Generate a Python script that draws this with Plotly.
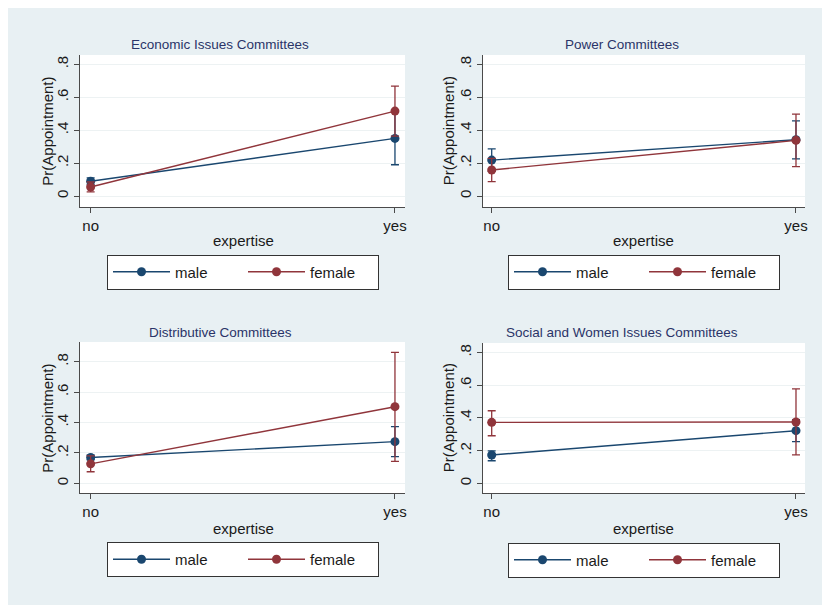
import plotly.graph_objects as go

# The page body adds an 8px white margin; the figure fills the rest of the window.
OFF = 8
W, H = 830 - OFF, 605 - OFF

# ---------------- data ----------------
categories = ["no", "yes"]
series_names = ["male", "female"]
panel_titles = [
    "Economic Issues Committees",
    "Power Committees",
    "Distributive Committees",
    "Social and Women Issues Committees",
]
ytick_vals = [0, 0.2, 0.4, 0.6, 0.8]
ytick_text = ["0", ".2", ".4", ".6", ".8"]
x_title = "expertise"
y_title = "Pr(Appointment)"

econ_male = [0.09, 0.35]
econ_male_lo = [0.07, 0.19]
econ_male_hi = [0.11, 0.51]
econ_female = [0.055, 0.516]
econ_female_lo = [0.025, 0.364]
econ_female_hi = [0.085, 0.668]

power_male = [0.218, 0.342]
power_male_lo = [0.15, 0.225]
power_male_hi = [0.286, 0.456]
power_female = [0.158, 0.338]
power_female_lo = [0.087, 0.178]
power_female_hi = [0.229, 0.497]

distr_male = [0.17, 0.274]
distr_male_lo = [0.155, 0.175]
distr_male_hi = [0.185, 0.373]
distr_female = [0.128, 0.504]
distr_female_lo = [0.076, 0.144]
distr_female_hi = [0.18, 0.862]

social_male = [0.173, 0.322]
social_male_lo = [0.138, 0.255]
social_male_hi = [0.198, 0.39]
social_female = [0.373, 0.375]
social_female_lo = [0.291, 0.174]
social_female_hi = [0.444, 0.578]

panels = [
    (econ_male, econ_male_lo, econ_male_hi, econ_female, econ_female_lo, econ_female_hi),
    (power_male, power_male_lo, power_male_hi, power_female, power_female_lo, power_female_hi),
    (distr_male, distr_male_lo, distr_male_hi, distr_female, distr_female_lo, distr_female_hi),
    (social_male, social_male_lo, social_male_hi, social_female, social_female_lo, social_female_hi),
]

# ---------------- layout geometry (page pixels) ----------------
plot_boxes = [  # x0, x1, ytop, ybottom
    (80, 405, 55, 207),
    (483, 805, 55, 207),
    (80, 405, 342, 493),
    (483, 805, 343, 493),
]
x_ranges = [[-0.035, 1.033], [-0.0286, 1.0296], [-0.035, 1.033], [-0.0286, 1.0296]]
y_ranges = [[-0.0668, 0.8566], [-0.0668, 0.8566], [-0.0638, 0.9296], [-0.0594, 0.8586]]
title_pos = [(220, 45), (621.7, 45), (220, 332.3), (621.7, 332.3)]
ytitle_pos = [(46.7, 131), (448.3, 131), (46.7, 418), (448.3, 418)]
xtitle_pos = [(243, 240), (643.3, 240), (243, 528.3), (643.3, 528.3)]
legend_pos = [(107, 254.5), (508, 254.5), (107, 542), (508, 542.5)]

COLORS = ["#1a476f", "#90353b"]
FONT = "Liberation Sans, Arial, Helvetica, sans-serif"
AXIS_COLOR = "#4a4a4a"
BG = "#e8f0f3"


def px(x):
    return (x - OFF) / W


def py(y):
    return 1 - (y - OFF) / H


fig = go.Figure()
annotations = []
layout_axes = {}

for i, data in enumerate(panels):
    k = "" if i == 0 else str(i + 1)
    legend_name = "legend" + k
    means = [data[0], data[3]]
    los = [data[1], data[4]]
    his = [data[2], data[5]]
    for s in range(2):
        fig.add_trace(go.Scatter(
            x=categories,
            y=means[s],
            mode="lines+markers",
            name=series_names[s],
            line=dict(color=COLORS[s], width=1.4),
            marker=dict(color=COLORS[s], size=9),
            error_y=dict(
                type="data",
                symmetric=False,
                array=[h - m for h, m in zip(his[s], means[s])],
                arrayminus=[m - l for m, l in zip(means[s], los[s])],
                color=COLORS[s],
                thickness=1.3,
                width=4,
            ),
            xaxis="x" + k,
            yaxis="y" + k,
            legend=legend_name,
            showlegend=True,
        ))

    x0, x1, yt, yb = plot_boxes[i]
    layout_axes["xaxis" + k] = dict(
        domain=[px(x0), px(x1)],
        anchor="y" + k,
        type="category",
        range=x_ranges[i],
        showline=True, linecolor=AXIS_COLOR, linewidth=1,
        ticks="outside", ticklen=5, tickcolor=AXIS_COLOR,
        showgrid=False, zeroline=False,
        tickfont=dict(family=FONT, size=15, color="#1a1a1a"),
    )
    layout_axes["yaxis" + k] = dict(
        domain=[py(yb), py(yt)],
        anchor="x" + k,
        range=y_ranges[i],
        tickvals=ytick_vals, ticktext=ytick_text,
        tickangle=-90,
        showline=True, linecolor=AXIS_COLOR, linewidth=1,
        ticks="outside", ticklen=5, tickcolor=AXIS_COLOR,
        showgrid=True, gridcolor="#edf2f3", gridwidth=1,
        zeroline=False,
        tickfont=dict(family=FONT, size=15, color="#1a1a1a"),
    )
    lx, ly = legend_pos[i]
    layout_axes[legend_name] = dict(
        x=px(lx), y=py(ly), xanchor="left", yanchor="top",
        orientation="h",
        bgcolor="white", bordercolor="#333333", borderwidth=1,
        font=dict(family=FONT, size=15, color="#1a1a1a"),
        entrywidth=63, entrywidthmode="pixels",
        itemwidth=57,
    )

    tx, ty = title_pos[i]
    annotations.append(dict(
        text=panel_titles[i], x=px(tx), y=py(ty), xref="paper", yref="paper",
        showarrow=False, xanchor="center", yanchor="middle",
        font=dict(family=FONT, size=13.5, color="#2a3468"),
    ))
    ax, ay = ytitle_pos[i]
    annotations.append(dict(
        text=y_title, x=px(ax), y=py(ay), xref="paper", yref="paper",
        showarrow=False, xanchor="center", yanchor="middle", textangle=-90,
        font=dict(family=FONT, size=15, color="#1a1a1a"),
    ))
    bx, by = xtitle_pos[i]
    annotations.append(dict(
        text=x_title, x=px(bx), y=py(by), xref="paper", yref="paper",
        showarrow=False, xanchor="center", yanchor="middle",
        font=dict(family=FONT, size=15, color="#1a1a1a"),
    ))

fig.update_layout(
    width=W, height=H,
    margin=dict(l=0, r=0, t=0, b=0, autoexpand=False),
    paper_bgcolor=BG,
    plot_bgcolor="white",
    annotations=annotations,
    font=dict(family=FONT),
    **layout_axes,
)

fig.write_html("out.html")
